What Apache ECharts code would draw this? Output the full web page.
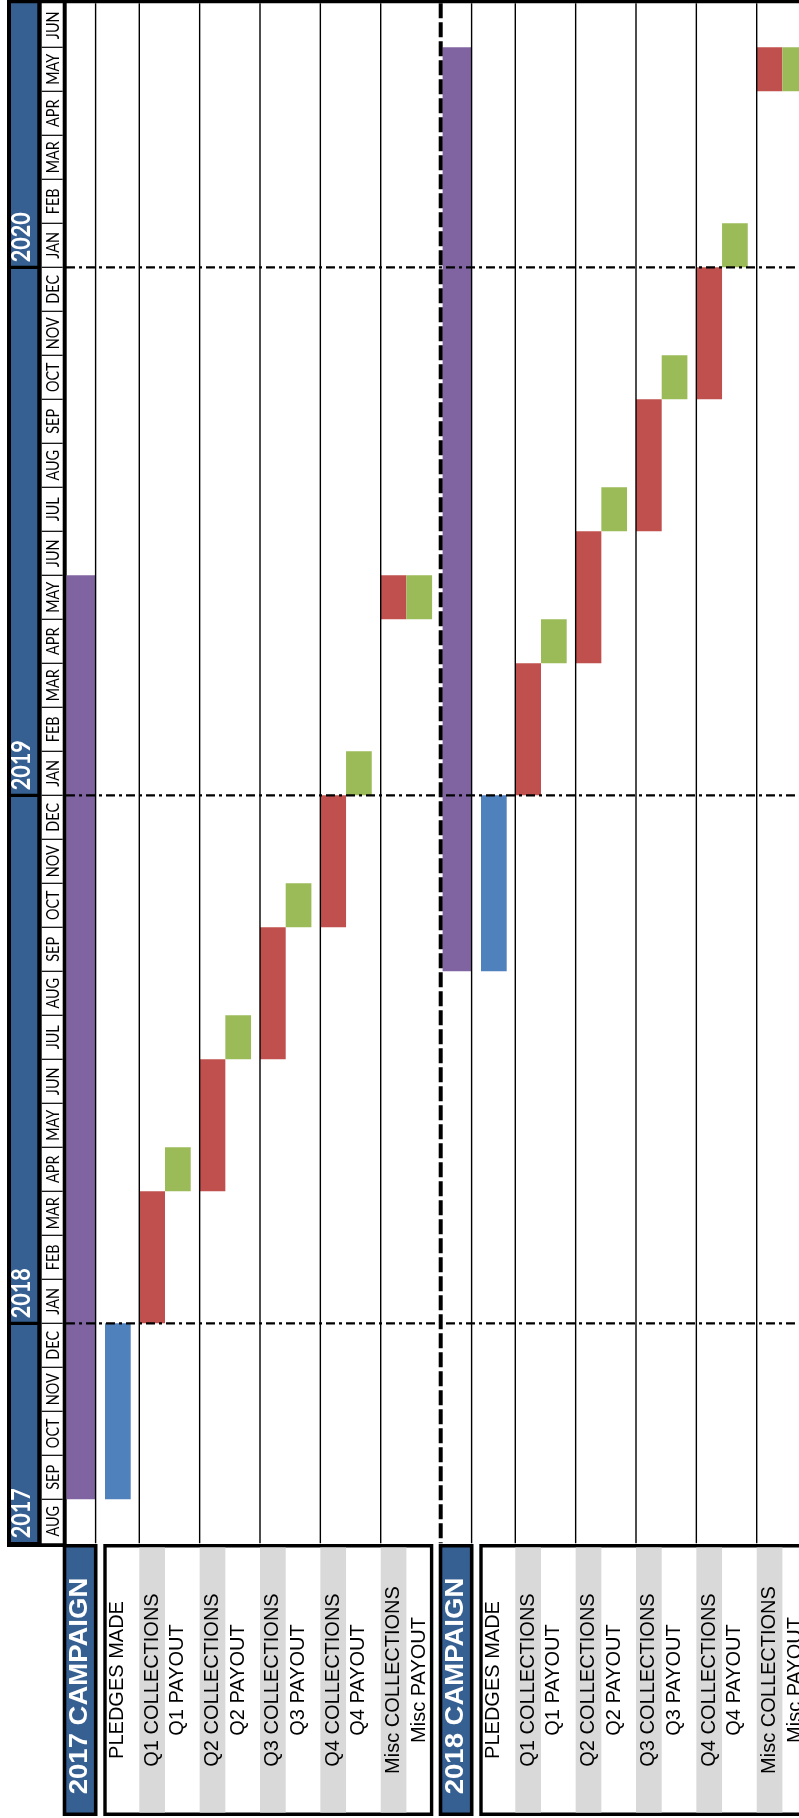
<!DOCTYPE html>
<html>
<head>
<meta charset="utf-8">
<script src="https://cdn.jsdelivr.net/npm/echarts@6/dist/echarts.min.js"></script>
<style>
html,body{margin:0;padding:0;background:#fff;}
#c{width:799px;height:1818px;}
</style>
</head>
<body>
<div id="c"></div>
<script>
// ------------------------- DATA -------------------------
// Time axis: month index counted from the start of AUG 2017 (0) to the end of JUN 2020 (35)
const months = ['AUG','SEP','OCT','NOV','DEC',
  'JAN','FEB','MAR','APR','MAY','JUN','JUL','AUG','SEP','OCT','NOV','DEC',
  'JAN','FEB','MAR','APR','MAY','JUN','JUL','AUG','SEP','OCT','NOV','DEC',
  'JAN','FEB','MAR','APR','MAY','JUN'];
const years = ['2017', '2018', '2019', '2020'];
const yearStarts = [0, 5, 17, 29];           // month index where each year begins
const campaignNames = ['2017 CAMPAIGN', '2018 CAMPAIGN'];
const rowLabels = ['PLEDGES MADE', 'Q1 COLLECTIONS', 'Q1 PAYOUT', 'Q2 COLLECTIONS', 'Q2 PAYOUT',
  'Q3 COLLECTIONS', 'Q3 PAYOUT', 'Q4 COLLECTIONS', 'Q4 PAYOUT', 'Misc COLLECTIONS', 'Misc PAYOUT'];
// [start, end] in month index
const campaignSpan = [[1, 22], [13, 34]];
const pledgesMade = [[1, 5], [13, 17]];
const collections = [
  [[5, 8], [8, 11], [11, 14], [14, 17], [21, 22]],
  [[17, 20], [20, 23], [23, 26], [26, 29], [33, 34]]
];
const payouts = [
  [[8, 9], [11, 12], [14, 15], [17, 18], [21, 22]],
  [[20, 21], [23, 24], [26, 27], [29, 30], [33, 34]]
];

// ------------------------- LAYOUT / STYLE -------------------------
const PURPLE = '#8064A2', BLUE = '#4F81BD', RED = '#C0504D', GREEN = '#9BBB59';
const NAVY = '#366092', GREY = '#D9D9D9';
const COLORS = [PURPLE, BLUE, RED, GREEN];
const PLOT_W = 733;          // horizontal axis units (layout units)
const BLOCK = 376;           // width of one campaign block
const CAMP_W = 29.6, PLEDGE_X = 39, BAR_W = 25.7, PAIR_X = 73.3, PAIR_STEP = 60.35;
const DASH_X = 374.7;
const HEAD_W = 59.7;
const ROT = Math.PI / 2;

function slot(c, r) {
  const b = c * BLOCK;
  if (r === 0) return [b + 0.6, b + CAMP_W];
  if (r === 1) return [b + PLEDGE_X, b + PLEDGE_X + BAR_W];
  const k = Math.floor((r - 2) / 2), p = (r - 2) % 2;
  const x0 = b + PAIR_X + k * PAIR_STEP + p * BAR_W;
  return [x0, x0 + BAR_W];
}

// build series data
const barData = [];
campaignSpan.forEach((s, c) => barData.push([c, 0, s[0], s[1], 0]));
pledgesMade.forEach((s, c) => barData.push([c, 1, s[0], s[1], 1]));
collections.forEach((arr, c) => arr.forEach((s, k) => barData.push([c, 2 + 2 * k, s[0], s[1], 2])));
payouts.forEach((arr, c) => arr.forEach((s, k) => barData.push([c, 3 + 2 * k, s[0], s[1], 3])));

const lineData = [[3, 0]];
campaignNames.forEach((n, c) => {
  lineData.push([0, c * BLOCK + CAMP_W]);
  for (let k = 0; k < 5; k++) lineData.push([0, c * BLOCK + PAIR_X + k * PAIR_STEP]);
});
yearStarts.slice(1).forEach(m => lineData.push([2, m]));
lineData.push([1, DASH_X]);

const headData = [[0, 0]];
years.forEach((y, i) => headData.push([1, i]));
months.forEach((m, i) => headData.push([2, i]));

const labelData = [];
campaignNames.forEach((n, c) => {
  labelData.push([0, c, 0]);
  labelData.push([1, c, 0]);
  rowLabels.forEach((l, i) => labelData.push([2, c, i]));
});

// ------------------------- RENDERERS -------------------------
function renderBar(params, api) {
  const c = api.value(0), r = api.value(1);
  const s = slot(c, r);
  const p0 = api.coord([s[0], api.value(3)]);
  const p1 = api.coord([s[1], api.value(2)]);
  return { type: 'rect', shape: { x: p0[0], y: p0[1], width: p1[0] - p0[0], height: p1[1] - p0[1] },
    style: { fill: COLORS[api.value(4)] } };
}

function renderLines(params, api) {
  const kind = api.value(0), v = api.value(1);
  if (kind === 3) {
    const a = api.coord([0, months.length]), b = api.coord([PLOT_W, months.length]);
    return { type: 'rect', shape: { x: a[0] - 1, y: 0, width: b[0] - a[0] + 1, height: a[1] }, style: { fill: '#000' } };
  }
  if (kind === 2) {
    const a = api.coord([0, v]), b = api.coord([PLOT_W, v]);
    return { type: 'line', shape: { x1: a[0], y1: a[1], x2: b[0], y2: b[1] },
      style: { stroke: '#000', lineWidth: 2.2, lineDash: [9, 4, 3, 4] } };
  }
  const a = api.coord([v, months.length]), b = api.coord([v, 0]);
  return { type: 'line', shape: { x1: a[0], y1: a[1], x2: b[0], y2: b[1] },
    style: kind === 1 ? { stroke: '#000', lineWidth: 4, lineDash: [15, 4] } : { stroke: '#000', lineWidth: 1.4 } };
}

function renderHeader(params, api) {
  const kind = api.value(0), i = api.value(1);
  if (kind === 0) {
    const tl = api.coord([0, months.length]), br = api.coord([HEAD_W, 0]);
    const wt = api.coord([34.7, months.length]), wb = api.coord([55.7, 0]);
    return { type: 'group', children: [
      { type: 'rect', shape: { x: tl[0], y: tl[1] - 3.3, width: br[0] - tl[0], height: br[1] - tl[1] + 7 }, style: { fill: '#000' } },
      { type: 'rect', shape: { x: wt[0], y: wt[1], width: wb[0] - wt[0], height: wb[1] - wt[1] }, style: { fill: '#fff' } }
    ] };
  }
  if (kind === 1) {
    const m0 = yearStarts[i], m1 = i + 1 < yearStarts.length ? yearStarts[i + 1] : months.length;
    const a = api.coord([4, m1]), b = api.coord([30.3, m0]);
    const insTop = i + 1 < yearStarts.length ? 1.6 : 0, insBot = i > 0 ? 1.6 : 1.2;
    const t = api.coord([14.7, m0]);
    return { type: 'group', children: [
      { type: 'rect', shape: { x: a[0], y: a[1] + insTop, width: b[0] - a[0], height: b[1] - a[1] - insTop - insBot }, style: { fill: NAVY } },
      { type: 'text', x: t[0], y: t[1] - 5, rotation: ROT, scaleX: 0.8,
        style: { text: years[i], fontFamily: 'Lato', fontWeight: 'bold', fontSize: 27, fill: '#fff', align: 'left', verticalAlign: 'middle' } }
    ] };
  }
  const a = api.coord([34.7, i]), b = api.coord([55.7, i]);
  const t = api.coord([46.5, i + 0.5]);
  const ch = [];
  if (i > 0) ch.push({ type: 'line', shape: { x1: a[0], y1: a[1], x2: b[0], y2: b[1] }, style: { stroke: '#000', lineWidth: 1.2 } });
  ch.push({ type: 'text', x: t[0], y: t[1], rotation: ROT, scaleX: 0.8,
    style: { text: months[i], fontFamily: 'Lato', fontSize: 18, fill: '#000', align: 'center', verticalAlign: 'middle' } });
  return { type: 'group', children: ch };
}

function renderLabels(params, api) {
  const kind = api.value(0), c = api.value(1);
  const top = api.coord([0, 1])[1], bot = api.coord([0, 0])[1];
  const b = c * BLOCK;
  const mid = (top + bot) / 2;
  if (kind === 0) {
    const x0 = api.coord([b - 3.3, 0])[0], x1 = api.coord([b + 31.5, 0])[0];
    const lw = 3.6;
    return { type: 'group', children: [
      { type: 'rect', shape: { x: x0 + lw / 2, y: top + lw / 2, width: x1 - x0 - lw, height: bot - top - lw },
        style: { fill: NAVY, stroke: '#000', lineWidth: lw } },
      { type: 'text', x: (x0 + x1) / 2, y: mid + 6, rotation: ROT, scaleX: 1.1,
        style: { text: campaignNames[c], fontFamily: 'Liberation Sans', fontWeight: 'bold', fontSize: 25, fill: '#fff', align: 'center', verticalAlign: 'middle' } }
    ] };
  }
  if (kind === 1) {
    const x0 = api.coord([b + 37.3, 0])[0], x1 = api.coord([b + 367.3, 0])[0];
    const lw = 3.4;
    return { type: 'rect', shape: { x: x0 + lw / 2, y: top + lw / 2, width: x1 - x0 - lw, height: bot - top - lw },
      style: { fill: '#fff', stroke: '#000', lineWidth: lw } };
  }
  const i = api.value(2), r = i + 1;
  const s = slot(c, r);
  const x0 = api.coord([s[0], 0])[0], x1 = api.coord([s[1], 0])[0];
  const ch = [];
  if (r >= 2 && r % 2 === 0) {
    ch.push({ type: 'rect', shape: { x: x0, y: top + 3.6, width: x1 - x0, height: bot - top - 7.2 }, style: { fill: GREY } });
  }
  ch.push({ type: 'text', x: (x0 + x1) / 2, y: mid, rotation: ROT,
    style: { text: rowLabels[i], fontFamily: 'Liberation Sans', fontSize: 20, fill: '#000', align: 'center', verticalAlign: 'middle' } });
  return { type: 'group', children: ch };
}

// ------------------------- CHART -------------------------
const chart = echarts.init(document.getElementById('c'), null, { renderer: 'canvas' });
chart.setOption({
  animation: false,
  backgroundColor: '#fff',
  grid: [
    { left: 66, top: 3.3, width: PLOT_W, height: 1540 },
    { left: 7, top: 3.3, width: HEAD_W, height: 1540 },
    { left: 66, top: 1544, width: PLOT_W, height: 272 }
  ],
  xAxis: [
    { gridIndex: 0, type: 'value', min: 0, max: PLOT_W, show: false },
    { gridIndex: 1, type: 'value', min: 0, max: HEAD_W, show: false },
    { gridIndex: 2, type: 'value', min: 0, max: PLOT_W, show: false }
  ],
  yAxis: [
    { gridIndex: 0, type: 'value', min: 0, max: months.length, show: false },
    { gridIndex: 1, type: 'value', min: 0, max: months.length, show: false },
    { gridIndex: 2, type: 'value', min: 0, max: 1, show: false }
  ],
  series: [
    { type: 'custom', name: 'header', xAxisIndex: 1, yAxisIndex: 1, silent: true, renderItem: renderHeader, data: headData, z: 2 },
    { type: 'custom', name: 'labels', xAxisIndex: 2, yAxisIndex: 2, silent: true, renderItem: renderLabels, data: labelData, z: 2 },
    { type: 'custom', name: 'bars', xAxisIndex: 0, yAxisIndex: 0, silent: true, renderItem: renderBar, data: barData, z: 3 },
    { type: 'custom', name: 'lines', xAxisIndex: 0, yAxisIndex: 0, silent: true, renderItem: renderLines, data: lineData, z: 4 }
  ]
});
</script>
</body>
</html>
